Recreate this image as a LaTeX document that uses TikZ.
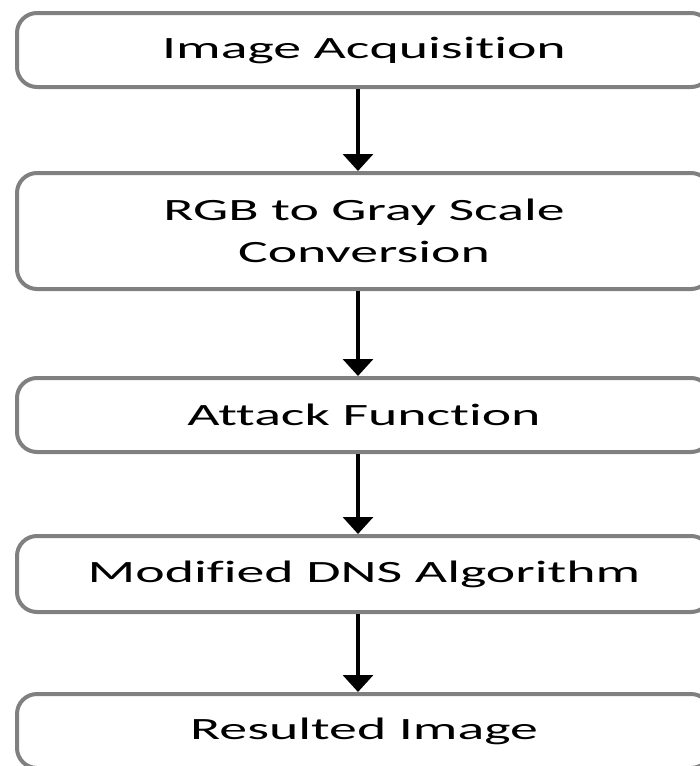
\documentclass[tikz,border=0pt]{standalone}
\usepackage{fontspec}
\setmainfont{Carlito}[RawFeature={-liga;-clig;-calt;-dlig}]
\usetikzlibrary{arrows.meta}
\newcommand{\wide}[1]{\scalebox{1.8}[1]{#1}}

\begin{document}
\begin{tikzpicture}[x=1pt,y=-1pt,>={Triangle[width=30pt,length=17pt]},
  stage/.style={draw=gray,line width=4pt,rounded corners=20pt,fill=white,
    minimum width=694pt,inner sep=0pt,align=center,
    font=\fontsize{31}{42}\selectfont},
  flow/.style={->,line width=3.5pt,black}]
\useasboundingbox (0,0) rectangle (700,766);
% define the stages of the pipeline
  \node[stage,minimum height=74pt]  (acq)    at (364,50)  {\wide{Image Acquisition}};
  \node[stage,minimum height=116pt] (gray)   at (364,231) {\wide{RGB to Gray Scale}\\\wide{Conversion}};
  \node[stage,minimum height=74pt]  (attack) at (364,415) {\wide{Attack Function}};
  \node[stage,minimum height=76pt]  (dns)    at (364,574) {\wide{Modified DNS Algorithm}};
  \node[stage,minimum height=74pt]  (result) at (364,731) {\wide{Resulted Image}};

% define the links
  \path[flow] ([xshift=-6pt]acq.south)    edge ([xshift=-6pt]gray.north)
              ([xshift=-6pt]gray.south)   edge ([xshift=-6pt]attack.north)
              ([xshift=-6pt]attack.south) edge ([xshift=-6pt]dns.north)
              ([xshift=-6pt]dns.south)    edge ([xshift=-6pt]result.north);
\end{tikzpicture}
\end{document}
